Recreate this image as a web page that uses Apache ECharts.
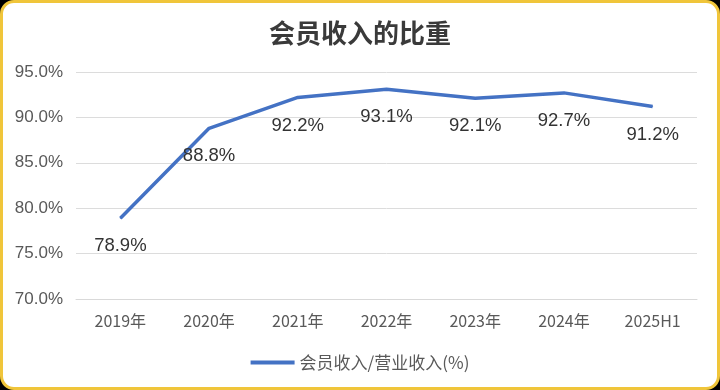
<!DOCTYPE html>
<html><head><meta charset="utf-8">
<script src="https://cdn.jsdelivr.net/npm/echarts@6/dist/echarts.min.js"></script>
<style>
html,body{margin:0;padding:0;background:#000;}
#frame{position:absolute;left:0;top:0;width:720px;height:390px;box-sizing:border-box;border:3px solid #f0c53a;border-radius:14px;background:#fff;}
#c{position:absolute;left:0;top:0;width:720px;height:390px;}
</style></head>
<body><div id="frame"></div><div id="c"></div>
<script>
const categories = ['2019年','2020年','2021年','2022年','2023年','2024年','2025H1'];
const values = [78.9, 88.8, 92.2, 93.1, 92.1, 92.7, 91.2];
const seriesName = '会员收入/营业收入(%)';
const titleText = '会员收入的比重';
const chart = echarts.init(document.getElementById('c'));
chart.setOption({
  backgroundColor: 'transparent',
  title: {text: titleText, left: 'center', top: 15,
    textStyle: {fontFamily: 'Noto Sans CJK SC', fontSize: 26, fontWeight: 'bold', color: '#3a3a3a'}},
  grid: {left: 76, right: 23, top: 72, bottom: 91},
  xAxis: {type: 'category', data: categories, boundaryGap: true,
    axisLine: {lineStyle: {color: '#d9d9d9'}}, axisTick: {show: false},
    axisLabel: {color: '#595959', fontSize: 16, margin: 14, fontFamily: 'Noto Sans CJK SC'}},
  yAxis: {type: 'value', min: 70, max: 95, interval: 5,
    axisLabel: {formatter: v => v.toFixed(1) + '%', color: '#595959', fontSize: 17, margin: 13, fontFamily: 'Liberation Sans'},
    splitLine: {lineStyle: {color: '#dcdcdc', width: 1}}, axisLine: {show: false}, axisTick: {show: false}},
  legend: {bottom: 14, left: 'center', itemWidth: 44, itemHeight: 4, itemGap: 4,
    icon: 'rect',
    textStyle: {color: '#595959', fontSize: 17, fontFamily: 'Noto Sans CJK SC'}},
  series: [{name: seriesName, type: 'line', data: values, showSymbol: true, symbol: 'circle', symbolSize: 1,
    lineStyle: {color: '#4472c4', width: 3.5}, itemStyle: {color: '#4472c4'},
    label: {show: true, position: 'bottom', distance: 18, formatter: p => p.value.toFixed(1) + '%',
      color: '#333', fontSize: 18.5, fontFamily: 'Liberation Sans'}}]
});
</script></body></html>
